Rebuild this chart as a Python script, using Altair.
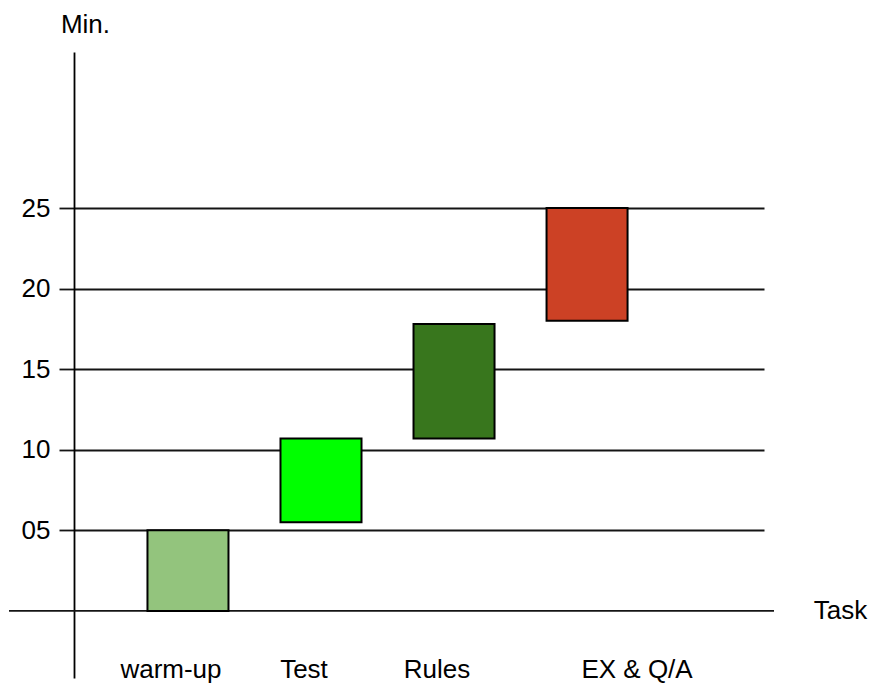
import altair as alt
import pandas as pd

# Agenda blocks: each task runs from a start minute to an end minute
tasks = ["warm-up", "Test", "Rules", "EX & Q/A"]
start_min = [0, 5.5, 10.7, 18]
end_min = [5, 10.7, 17.8, 25]
colors = ["#93c47d", "#00ff00", "#38761d", "#cc4125"]
tick_values = [5, 10, 15, 20, 25]

df = pd.DataFrame({"task": tasks, "start": start_min, "end": end_min})

FONT = "Liberation Sans"
FS = 26
LINE = "#141414"

x_enc = alt.X(
    "task:N",
    sort=tasks,
    scale=alt.Scale(paddingInner=0.391, paddingOuter=0.789, align=0.35),
    axis=alt.Axis(
        title="Task",
        titleAngle=0,
        titleX=766,
        titleY=-60,
        titleAlign="center",
        titleBaseline="alphabetic",
        titleFont=FONT,
        titleFontSize=FS,
        titleFontWeight="normal",
        titleColor="black",
        labelAngle=0,
        labelFont=FONT,
        labelFontSize=FS,
        labelColor="black",
        labelBaseline="alphabetic",
        labelPadding=-1,
        # the last label sits to the right of its block, the others a little left
        labelOffset={"condition": {"test": "datum.value === 'EX & Q/A'", "value": 50}, "value": -17},
        ticks=False,
        tickSize=0,
        domain=False,
        grid=False,
    ),
)

y_scale = alt.Scale(domain=[-4.16, 34.68], nice=False, zero=False)

bars = alt.Chart(df).mark_bar(stroke="black", strokeWidth=2).encode(
    x=x_enc,
    y=alt.Y(
        "start:Q",
        scale=y_scale,
        axis=alt.Axis(
            values=tick_values,
            format="02d",
            title="Min.",
            titleAngle=0,
            titleX=11,
            titleY=-20,
            titleAlign="center",
            titleBaseline="alphabetic",
            titleFont=FONT,
            titleFontSize=FS,
            titleFontWeight="normal",
            titleColor="black",
            labelFont=FONT,
            labelFontSize=FS,
            labelColor="black",
            labelBaseline="middle",
            labelPadding=9,
            tickSize=15,
            tickColor=LINE,
            tickWidth=1.8,
            grid=True,
            gridColor=LINE,
            gridWidth=1.8,
            domainColor="black",
            domainWidth=1.8,
        ),
    ),
    y2="end:Q",
    color=alt.Color("task:N", scale=alt.Scale(domain=tasks, range=colors), legend=None),
)

# Zero baseline, reaching past the axis on the left
baseline = alt.Chart(pd.DataFrame({"zero": [0]})).mark_rule(
    color=LINE, strokeWidth=1.8
).encode(
    y=alt.Y("zero:Q", scale=y_scale),
    x=alt.value(-65),
    x2=alt.value(700),
)

chart = alt.layer(baseline, bars).properties(
    width=690,
    height=626,
    autosize=alt.AutoSizeParams(type="none"),
    padding={"left": 74, "top": 52, "right": 107, "bottom": 6},
    background="white",
).configure_view(stroke=None)

chart.save("out.html", embed_options={"renderer": "svg", "actions": False})
